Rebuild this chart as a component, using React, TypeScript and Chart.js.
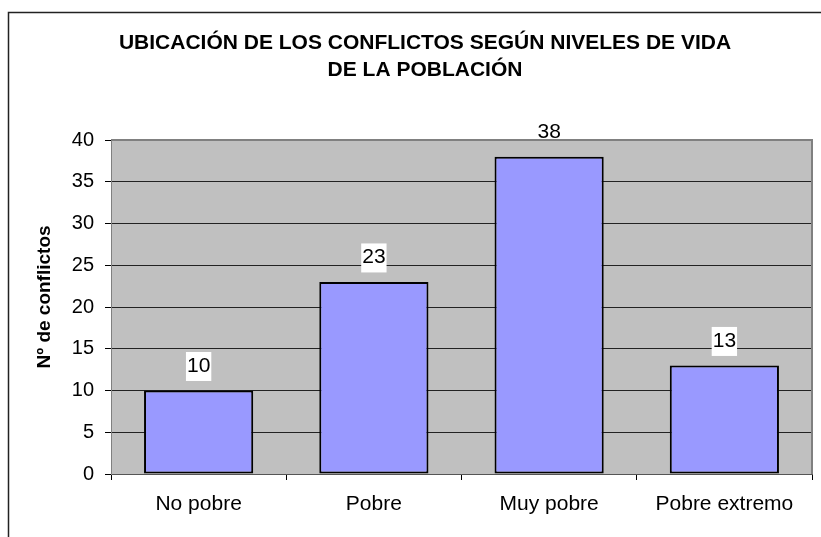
import React, { useEffect, useRef } from "react";
import { Chart, registerables } from "chart.js";

Chart.register(...registerables);

const categories = ["No pobre", "Pobre", "Muy pobre", "Pobre extremo"];
const conflictCounts = [10, 23, 38, 13];
const titleLines = ["UBICACIÓN DE LOS CONFLICTOS SEGÚN NIVELES DE VIDA", "DE LA POBLACIÓN"];
const yAxisTitle = "Nº de conflictos";
const yTickStep = 5;
const yMax = 40;

const FONT = "'Liberation Sans', Arial, sans-serif";

const decorPlugin = {
  id: "decor",
  beforeDraw(chart: any) {
    const { ctx, chartArea: a } = chart;
    ctx.save();
    ctx.fillStyle = "#ffffff";
    ctx.fillRect(0, 0, chart.width, chart.height);
    ctx.fillStyle = "#C0C0C0";
    ctx.fillRect(a.left, a.top, a.right - a.left, a.bottom - a.top);
    // outer frame
    ctx.strokeStyle = "#222";
    ctx.lineWidth = 1.5;
    ctx.strokeRect(8.5, 12.5, chart.width + 20, chart.height + 20);
    ctx.restore();
  },
  beforeDatasetsDraw(chart: any) {
    const { ctx, chartArea: a } = chart;
    ctx.save();
    ctx.strokeStyle = "#808080";
    ctx.lineWidth = 2;
    ctx.beginPath();
    ctx.moveTo(a.left, a.top);
    ctx.lineTo(a.right, a.top);
    ctx.lineTo(a.right, a.bottom);
    ctx.stroke();
    ctx.restore();
  },
  afterDatasetsDraw(chart: any) {
    const { ctx, chartArea: a } = chart;
    const meta = chart.getDatasetMeta(0);
    const data = chart.data.datasets[0].data;
    ctx.save();
    ctx.font = `21px ${FONT}`;
    ctx.textAlign = "center";
    ctx.textBaseline = "middle";
    meta.data.forEach((el: any, i: number) => {
      const txt = String(data[i]);
      const w = ctx.measureText(txt).width + 2;
      const cy = el.y - 25.5;
      if (cy - 13 >= a.top) {
        ctx.fillStyle = "#ffffff";
        ctx.fillRect(el.x - w / 2, cy - 13, w, 29);
      }
      ctx.fillStyle = "#000";
      ctx.fillText(txt, el.x, cy + 1);
    });
    // title
    ctx.font = `bold 21px ${FONT}`;
    titleLines.forEach((line, i) => {
      ctx.fillText(line, 425, 43 + i * 27);
    });
    // y axis title
    ctx.translate(45, 297);
    ctx.rotate(-Math.PI / 2);
    ctx.font = `bold 19px ${FONT}`;
    ctx.fillText(yAxisTitle, 0, 0);
    ctx.restore();
  },
};

export default function App() {
  const ref = useRef<HTMLCanvasElement | null>(null);
  useEffect(() => {
    if (!ref.current) return;
    const chart = new Chart(ref.current, {
      type: "bar",
      data: {
        labels: categories,
        datasets: [
          {
            data: conflictCounts,
            backgroundColor: "#9999FF",
            borderColor: "#000000",
            borderWidth: 2,
            borderSkipped: false,
            categoryPercentage: 1,
            barPercentage: 0.623,
          },
        ],
      },
      options: {
        animation: false,
        responsive: false,
        maintainAspectRatio: false,
        layout: { padding: { left: 61, right: 9, top: 140, bottom: 22 } },
        plugins: { legend: { display: false }, title: { display: false }, tooltip: { enabled: false } },
        scales: {
          x: {
            grid: {
              offset: true,
              drawOnChartArea: false,
              drawTicks: true,
              tickLength: 6,
              tickColor: "#000",
              color: "#000",
            },
            border: { display: true, color: "#555", width: 1 },
            ticks: { color: "#000", font: { family: FONT, size: 21 }, padding: 12 },
            afterFit: (s: any) => {
              s.height = 41;
            },
          },
          y: {
            min: 0,
            max: yMax,
            grid: {
              color: "#222",
              lineWidth: 1,
              tickLength: 6,
              tickColor: "#000",
            },
            border: { display: true, color: "#808080", width: 1 },
            ticks: {
              stepSize: yTickStep,
              color: "#000",
              font: { family: FONT, size: 20 },
              padding: 11,
            },
            afterFit: (s: any) => {
              s.width = 50;
            },
          },
        },
      },
      plugins: [decorPlugin],
    });
    return () => chart.destroy();
  }, []);
  return (
    <div style={{ position: "fixed", left: 0, top: 0, width: 821, height: 537 }}>
      <canvas ref={ref} width={821} height={537} style={{ display: "block" }} />
    </div>
  );
}
